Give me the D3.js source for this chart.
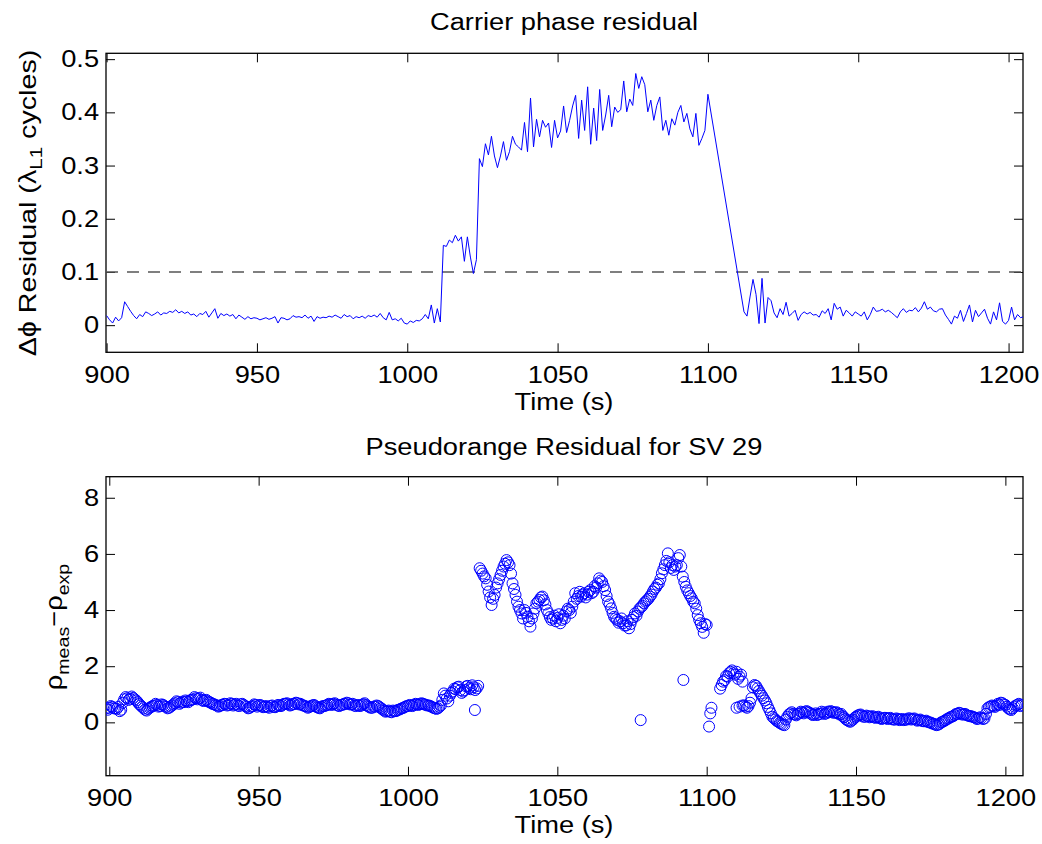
<!DOCTYPE html>
<html>
<head>
<meta charset="utf-8">
<script src="https://cdn.jsdelivr.net/npm/d3@7"></script>
<style>
body { margin: 0; background: #fff; }
text { font-family: "Liberation Sans", Arial, sans-serif; fill: #000; }
</style>
</head>
<body>
<div id="chart"></div>
<script>
// carrier phase residual, 1 s samples, 900..1100 s
var phaseStartA = 900;
var phaseA = [
  0.018,0.010,0.004,0.015,0.008,0.014,0.044,0.035,0.026,0.018,
  0.012,0.020,0.016,0.025,0.022,0.018,0.021,0.025,0.019,0.023,
  0.022,0.026,0.024,0.029,0.023,0.026,0.022,0.025,0.019,0.021,
  0.016,0.022,0.020,0.026,0.015,0.023,0.031,0.013,0.022,0.018,
  0.021,0.017,0.020,0.012,0.019,0.015,0.011,0.016,0.012,0.014,
  0.013,0.010,0.012,0.014,0.011,0.013,0.016,0.004,0.014,0.013,
  0.010,0.012,0.018,0.015,0.016,0.014,0.019,0.013,0.017,0.007,
  0.016,0.013,0.015,0.014,0.017,0.015,0.019,0.016,0.013,0.020,
  0.016,0.018,0.012,0.016,0.014,0.017,0.013,0.018,0.016,0.019,
  0.015,0.022,0.014,0.010,0.024,0.010,0.012,0.008,0.013,0.004,
  0.002,0.008,0.005,0.009,0.008,0.012,0.020,0.012,0.038,0.004,
  0.031,0.006,0.150,0.148,0.160,0.155,0.169,0.158,0.166,0.120,
  0.166,0.128,0.097,0.123,0.313,0.298,0.341,0.320,0.355,0.318,
  0.296,0.318,0.345,0.310,0.326,0.355,0.340,0.335,0.329,0.381,
  0.326,0.427,0.335,0.387,0.354,0.385,0.372,0.380,0.334,0.385,
  0.352,0.365,0.412,0.362,0.385,0.412,0.432,0.351,0.423,0.366,
  0.448,0.340,0.408,0.347,0.443,0.366,0.395,0.432,0.373,0.410,
  0.400,0.405,0.459,0.401,0.425,0.413,0.473,0.445,0.467,0.452,
  0.401,0.423,0.385,0.413,0.429,0.366,0.385,0.357,0.388,0.376,
  0.400,0.413,0.382,0.398,0.369,0.354,0.398,0.338,0.351,0.366,
  0.434
];
// carrier phase residual, 1112..1205 s
var phaseStartB = 1112;
var phaseB = [
  0.025,0.017,0.053,0.086,0.058,0.003,0.088,0.004,0.052,0.046,
  0.023,0.014,0.031,0.020,0.043,0.017,0.022,0.028,0.009,0.020,
  0.025,0.021,0.024,0.019,0.020,0.015,0.027,0.022,0.031,0.010,
  0.041,0.030,0.034,0.017,0.028,0.023,0.017,0.025,0.021,0.017,
  0.025,0.010,0.020,0.034,0.026,0.027,0.030,0.025,0.028,0.024,
  0.019,0.014,0.025,0.031,0.024,0.028,0.027,0.033,0.025,0.032,
  0.044,0.030,0.034,0.027,0.025,0.030,0.031,0.019,0.011,0.002,
  0.017,0.013,0.028,0.007,0.022,0.038,0.006,0.028,0.016,0.023,
  0.030,0.013,0.002,0.025,0.010,0.042,0.007,0.002,0.009,0.034,
  0.010,0.020,0.014,0.016
];
var phaseThreshold = 0.1;

// pseudorange residual, samples on whole seconds from 899 s (null = no sample)
var pseudoStart = 899;
var pseudoVals = [
  0.50,0.52,0.55,0.50,0.55,0.45,0.82,0.86,0.84,0.87,
  0.78,0.65,0.55,0.45,0.48,0.55,0.60,0.62,0.58,0.62,
  0.55,0.52,0.60,0.68,0.72,0.70,0.72,0.75,0.78,0.82,
  0.86,0.85,0.80,0.78,0.75,0.70,0.65,0.60,0.58,0.62,
  0.65,0.62,0.66,0.63,0.60,0.64,0.62,0.55,0.52,0.58,
  0.62,0.60,0.58,0.56,0.55,0.58,0.55,0.57,0.60,0.62,
  0.66,0.64,0.62,0.65,0.68,0.66,0.60,0.56,0.55,0.60,
  0.58,0.52,0.55,0.58,0.62,0.64,0.66,0.63,0.58,0.62,
  0.65,0.68,0.64,0.60,0.62,0.58,0.65,0.62,0.55,0.52,
  0.56,0.58,0.50,0.42,0.40,0.38,0.42,0.40,0.45,0.50,
  0.55,0.58,0.60,0.62,0.64,0.65,0.66,0.62,0.60,0.55,
  0.50,0.50,0.60,1.03,0.85,0.95,1.10,1.18,1.27,1.05,
  1.15,1.30,1.18,1.25,1.21,5.49,5.30,5.13,4.66,4.18,
  4.54,4.95,5.25,5.55,5.78,5.60,4.95,4.54,4.12,3.88,
  4.00,3.76,3.41,3.88,4.24,4.36,4.48,4.20,3.88,3.65,
  3.80,3.72,3.53,3.80,3.95,4.00,4.12,4.60,4.50,4.48,
  4.60,4.55,4.71,4.65,4.80,5.13,5.00,4.71,4.30,4.06,
  3.76,3.65,3.60,3.53,3.45,3.35,3.65,3.88,3.95,4.10,
  4.24,4.35,4.48,4.66,4.80,4.95,5.31,5.60,6.02,5.50,
  5.43,5.60,5.96,5.19,4.83,4.60,4.42,4.24,3.82,3.53,
  3.19,3.47,null,null,null,null,1.33,1.50,1.63,1.80,
  1.75,1.80,1.63,1.45,0.56,0.58,0.86,1.33,1.21,1.03,
  0.86,0.68,0.44,0.20,0.10,0.02,-0.05,-0.10,0.20,0.32,
  0.30,0.25,0.32,0.35,0.38,0.36,0.30,0.28,0.26,0.30,
  0.35,0.32,0.36,0.38,0.35,0.32,0.30,0.18,0.08,0.02,
  0.10,0.20,0.26,0.24,0.20,0.22,0.20,0.18,0.18,0.15,
  0.14,0.16,0.14,0.12,0.10,0.12,0.10,0.08,0.10,0.14,
  0.12,0.10,0.08,0.06,0.04,0.02,-0.01,-0.05,-0.10,-0.05,
  0.02,0.08,0.14,0.20,0.26,0.30,0.32,0.28,0.26,0.22,
  0.20,0.16,0.14,0.16,0.14,0.50,0.56,0.58,0.60,0.62,
  0.68,0.62,0.50,0.44,0.56,0.62,0.58
];
// pseudorange residual, samples on half seconds from 899.5 s
var pseudoHalfStart = 899.5;
var pseudoHalf = [
  0.45,0.58,0.50,0.48,0.40,0.70,0.90,0.80,0.92,0.82,
  0.72,0.60,0.50,0.42,0.52,0.58,0.66,0.56,0.64,0.58,
  0.50,0.56,0.64,0.75,0.66,0.74,0.78,0.72,0.80,0.90,
  0.82,0.88,0.76,0.80,0.72,0.66,0.62,0.56,0.62,0.66,
  0.60,0.68,0.60,0.66,0.58,0.66,0.58,0.50,0.56,0.64,
  0.56,0.62,0.54,0.58,0.52,0.60,0.54,0.62,0.58,0.66,
  0.68,0.60,0.66,0.70,0.64,0.62,0.58,0.52,0.58,0.62,
  0.54,0.50,0.58,0.60,0.66,0.62,0.68,0.60,0.62,0.66,
  0.70,0.64,0.66,0.58,0.60,0.62,0.68,0.58,0.52,0.56,
  0.60,0.54,0.46,0.38,0.42,0.36,0.40,0.44,0.48,0.52,
  0.58,0.62,0.58,0.66,0.62,0.68,0.64,0.60,0.58,0.52,
  0.48,0.55,0.80,0.95,0.75,1.05,1.20,1.25,1.15,1.10,
  1.28,1.22,1.32,1.15,1.30,5.40,5.20,4.90,4.45,4.40,
  4.80,5.10,5.40,5.65,5.70,5.30,4.75,4.30,4.00,3.70,
  3.90,3.60,3.70,4.05,4.30,4.45,4.35,4.00,3.75,3.70,
  3.60,3.85,3.65,3.70,4.05,3.90,4.30,4.40,4.65,4.55,
  4.45,4.65,4.60,4.85,4.95,5.05,4.85,4.50,4.20,3.90,
  3.70,3.55,3.70,3.45,3.60,3.50,3.75,3.80,4.05,4.15,
  4.30,4.40,4.55,4.75,4.90,5.10,5.45,5.75,5.70,5.60,
  5.55,5.85,5.55,5.00,4.70,4.50,4.30,4.05,3.65,3.40,
  3.50,null,null,null,null,null,1.45,1.65,1.75,1.85,
  1.70,1.55,1.70,0.60,0.52,0.70,1.25,1.30,1.12,0.95,
  0.78,0.55,0.32,0.15,0.05,-0.02,-0.08,0.10,0.28,0.36,
  0.28,0.30,0.38,0.32,0.40,0.34,0.26,0.32,0.30,0.38,
  0.30,0.38,0.40,0.34,0.36,0.28,0.22,0.12,0.05,0.06,
  0.16,0.24,0.28,0.20,0.24,0.18,0.22,0.16,0.20,0.12,
  0.16,0.12,0.16,0.10,0.14,0.08,0.12,0.10,0.14,0.10,
  0.14,0.06,0.10,0.04,0.06,0.00,-0.04,-0.08,-0.08,0.00,
  0.05,0.12,0.18,0.22,0.30,0.34,0.28,0.30,0.24,0.22,
  0.18,0.12,0.18,0.12,0.30,0.54,0.60,0.55,0.66,0.70,
  0.64,0.56,0.46,0.50,0.60,0.66,0.62
];
// stray pseudorange samples off the main track
var pseudoExtraT = [1022.4, 1077.9, 1092.2, 1100.8, 1101.2, 1101.6, 1104.5, 1110, 1111, 1112];
var pseudoExtraV = [0.44, 0.08, 1.51, -0.15, 0.32, 0.52, 1.20, 0.52, 0.56, 0.60];

var xTicks = [900, 950, 1000, 1050, 1100, 1150, 1200];
var phaseTicks = [0, 0.1, 0.2, 0.3, 0.4, 0.5];
var pseudoTicks = [0, 2, 4, 6, 8];

var W = 1042, H = 844;
var stretch = 1.16;   // glyphs in the source are a bit wider than Liberation Sans
var fs = 23.5;

var svg = d3.select('#chart').append('svg')
  .attr('width', W)
  .attr('height', H);

svg.append('rect').attr('width', W).attr('height', H).attr('fill', '#fff');

var left = 106, right = 1023;

// scales for both panels
var xTop = d3.scaleLinear().domain([899.8, 1204.8]).range([left, right]);
var yTop = d3.scaleLinear().domain([-0.051, 0.511]).range([352.3, 53.3]);
var xBot = d3.scaleLinear().domain([898.9, 1205.9]).range([left, right]);
var yBot = d3.scaleLinear().domain([-1.9, 8.75]).range([775.7, 476.7]);

function drawFrame(x, y, yTickVals, yFmt, id) {
  var y0 = y.range()[0], y1 = y.range()[1];

  svg.append('clipPath').attr('id', id)
    .append('rect')
    .attr('x', left).attr('y', y1)
    .attr('width', right - left).attr('height', y0 - y1);

  var bottom = svg.append('g')
    .attr('transform', 'translate(0,' + y0 + ')')
    .call(d3.axisBottom(x).tickValues(xTicks).tickFormat(d3.format('d'))
      .tickSize(-9).tickSizeOuter(0).tickPadding(14));
  var top = svg.append('g')
    .attr('transform', 'translate(0,' + y1 + ')')
    .call(d3.axisTop(x).tickValues(xTicks).tickFormat('')
      .tickSize(-9).tickSizeOuter(0));
  var leftAx = svg.append('g')
    .attr('transform', 'translate(' + left + ',0)')
    .call(d3.axisLeft(y).tickValues(yTickVals).tickFormat(yFmt)
      .tickSize(-9).tickSizeOuter(0).tickPadding(6));
  var rightAx = svg.append('g')
    .attr('transform', 'translate(' + right + ',0)')
    .call(d3.axisRight(y).tickValues(yTickVals).tickFormat('')
      .tickSize(-9).tickSizeOuter(0));

  [bottom, top, leftAx, rightAx].forEach(function (g) {
    g.select('.domain').remove();
    g.selectAll('.tick line').attr('stroke', '#000').attr('stroke-width', 1);
    g.selectAll('.tick text')
      .attr('font-size', fs)
      .attr('font-family', '"Liberation Sans", Arial, sans-serif')
      .attr('fill', '#000')
      .attr('transform', 'scale(' + stretch + ',1)');
  });

  svg.append('rect')
    .attr('x', left).attr('y', y1)
    .attr('width', right - left).attr('height', y0 - y1)
    .attr('fill', 'none')
    .attr('stroke', '#000')
    .attr('stroke-width', 1.3);
}

function label(txt, x, y, rot) {
  return svg.append('text')
    .attr('transform', 'translate(' + x + ',' + y + ') rotate(' + rot + ') scale(' + stretch + ',1)')
    .attr('text-anchor', 'middle')
    .attr('font-size', fs)
    .text(txt);
}

// ---------- top panel: carrier phase ----------
drawFrame(xTop, yTop, phaseTicks, function (d) { return d === 0 ? '0' : d3.format('.1f')(d); }, 'clipTop');

var phaseData = phaseA.map(function (v, i) { return {t: phaseStartA + i, v: v}; })
  .concat(phaseB.map(function (v, i) { return {t: phaseStartB + i, v: v}; }));

var topPlot = svg.append('g').attr('clip-path', 'url(#clipTop)');

topPlot.append('line')
  .attr('x1', left).attr('x2', right)
  .attr('y1', yTop(phaseThreshold)).attr('y2', yTop(phaseThreshold))
  .attr('stroke', '#555')
  .attr('stroke-width', 1.4)
  .attr('stroke-dasharray', '12,9');

topPlot.append('path')
  .datum(phaseData)
  .attr('fill', 'none')
  .attr('stroke', '#0000ff')
  .attr('stroke-width', 1)
  .attr('d', d3.line()
    .x(function (d) { return xTop(d.t); })
    .y(function (d) { return yTop(d.v); }));

label('Carrier phase residual', 564, 30, 0);
label('Time (s)', 564, 410, 0);

var yl1 = svg.append('text')
  .attr('transform', 'translate(36,203) rotate(-90) scale(1.22,1)')
  .attr('text-anchor', 'middle')
  .attr('font-size', fs);
yl1.append('tspan').text('\u0394\u03d5 Residual (\u03bb');
yl1.append('tspan').attr('dy', 6).attr('font-size', fs * 0.72).text('L1');
yl1.append('tspan').attr('dy', -6).text('  cycles)');

// ---------- bottom panel: pseudorange ----------
drawFrame(xBot, yBot, pseudoTicks, d3.format('d'), 'clipBot');

var pseudoData = pseudoVals.map(function (v, i) { return {t: pseudoStart + i, v: v}; })
  .concat(pseudoHalf.map(function (v, i) { return {t: pseudoHalfStart + i, v: v}; }))
  .filter(function (d) { return d.v !== null; })
  .concat(pseudoExtraT.map(function (t, i) { return {t: t, v: pseudoExtraV[i]}; }));

svg.append('g').attr('clip-path', 'url(#clipBot)')
  .selectAll('circle')
  .data(pseudoData)
  .enter()
  .append('circle')
  .attr('cx', function (d) { return xBot(d.t); })
  .attr('cy', function (d) { return yBot(d.v); })
  .attr('r', 5.5)
  .attr('fill', 'none')
  .attr('stroke', '#0000ff')
  .attr('stroke-width', 1);

label('Pseudorange Residual for SV 29', 564, 455, 0);
label('Time (s)', 564, 833, 0);

var yl2 = svg.append('text')
  .attr('transform', 'translate(62,627) rotate(-90) scale(' + stretch + ',1)')
  .attr('text-anchor', 'middle')
  .attr('font-size', fs);
yl2.append('tspan').text('\u03c1');
yl2.append('tspan').attr('dy', 7).attr('font-size', fs * 0.72).text('meas');
yl2.append('tspan').attr('dy', -7).text('\u2212\u03c1');
yl2.append('tspan').attr('dy', 7).attr('font-size', fs * 0.72).text('exp');
</script>
</body>
</html>
